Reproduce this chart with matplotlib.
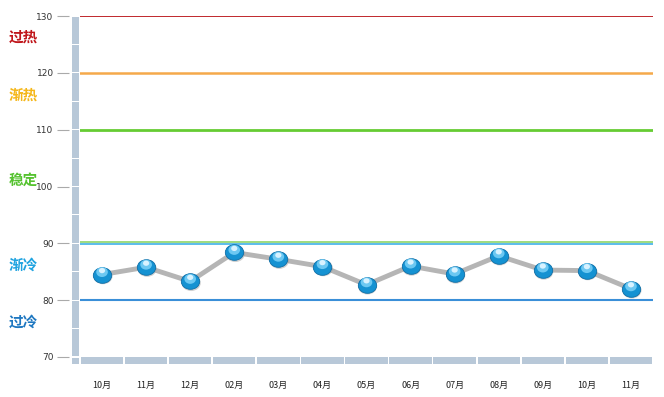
import numpy as np
import matplotlib.pyplot as plt
import matplotlib.transforms as mtransforms
from matplotlib.patches import Rectangle
from matplotlib.path import Path

plt.rcParams['font.family'] = ['Noto Sans CJK SC', 'DejaVu Sans']

# 0. Data
months = ["10月", "11月", "12月", "02月", "03月", "04月", "05月",
          "06月", "07月", "08月", "09月", "10月", "11月"]
values = [84.5, 85.8, 83.3, 88.4, 87.2, 85.9, 82.7,
          86.0, 84.6, 87.8, 85.3, 85.2, 82.0]
zone_names = ["过热", "渐热", "稳定", "渐冷", "过冷"]
zone_label_y = [126.3, 116.1, 101.1, 86.2, 76.2]
zone_colors = ["#c0171c", "#f5b71a", "#55c22f", "#1fa3e0", "#1f78c1"]
y_ticks = [70, 80, 90, 100, 110, 120, 130]

# ellipse marker (a bit wider than tall)
circ = Path.unit_circle()
ell = Path(circ.vertices * np.array([1.0, 0.85]), circ.codes)

# 1. Figure
fig = plt.figure(figsize=(6.64, 3.97), dpi=100)
ax = fig.add_axes([80 / 664, 40 / 397, 573 / 664, 341 / 397])
x = np.arange(len(months))
ax.set_xlim(-0.5, len(months) - 0.5)
ax.set_ylim(70, 130)

for s in ax.spines.values():
    s.set_visible(False)
ax.spines['left'].set_position(('outward', 8))

ax.set_yticks(y_ticks)
ax.set_yticklabels([str(v) for v in y_ticks], fontsize=6.5, color="#333333",
                   family="DejaVu Sans")
ax.tick_params(axis='y', length=9, color="#aaaaaa", pad=2)
ax.set_xticks(x)
ax.set_xticklabels(months, fontsize=6.5, color="#222222")
ax.tick_params(axis='x', length=0, pad=17)

# 2. 3D wall and floor
wall_tr = mtransforms.blended_transform_factory(ax.transAxes, ax.transData)
wx0, wx1 = -8 / 573, -1 / 573
for y0 in range(70, 130, 5):
    ax.add_patch(Rectangle((wx0, y0 + 0.1), wx1 - wx0, 4.8, transform=wall_tr,
                           facecolor="#b8c8d8", edgecolor="none", clip_on=False))
floor_tr = mtransforms.blended_transform_factory(ax.transData, ax.transAxes)
fh = 7 / 341
for i in x:
    ax.add_patch(Rectangle((i - 0.5 + 0.02, -fh), 0.96, fh, transform=floor_tr,
                           facecolor="#b8c8d8", edgecolor="none", clip_on=False))
ax.add_patch(Rectangle((wx0, -fh), wx1 - wx0, fh - 1 / 341, transform=ax.transAxes,
                       facecolor="#b8c8d8", edgecolor="none", clip_on=False))

# 3. Threshold lines
ax.axhline(130, color="#c0282d", lw=1.4)
ax.axhline(120, color="#f5a94a", lw=1.8)
ax.axhline(110, color="#66cc33", lw=2.0)
ax.axhline(90.15, color="#8ed46a", lw=1.2)
ax.axhline(89.85, color="#3fb0e8", lw=1.2)
ax.axhline(80, color="#3a8fd8", lw=1.5)

# zone names
for name, yy, c in zip(zone_names, zone_label_y, zone_colors):
    ax.text(-57 / 573, yy, name, transform=wall_tr, ha='center', va='center',
            fontsize=10.5, fontweight='bold', color=c, clip_on=False)

# 4. Line with glossy markers
ax.plot(x, values, color="#b5b5b5", lw=3.5, solid_joinstyle='round',
        solid_capstyle='round', zorder=3)
shadow = mtransforms.offset_copy(ax.transData, fig=fig, x=1, y=-1.5, units='dots')
ax.scatter(x, values, s=190, marker=ell, color="#9a9a9a", alpha=0.45,
           edgecolors='none', transform=shadow, zorder=4)
ax.scatter(x, values, s=175, marker=ell, color="#1592d2", edgecolors="#0f6fa8",
           linewidths=0.6, zorder=5)
hi = mtransforms.offset_copy(ax.transData, fig=fig, x=0, y=2.5, units='dots')
ax.scatter(x, values, s=70, marker=ell, color="#6cc8f2", edgecolors='none',
           transform=hi, zorder=6)
hi2 = mtransforms.offset_copy(ax.transData, fig=fig, x=0, y=4, units='dots')
ax.scatter(x, values, s=20, marker=ell, color="#d8f2ff", edgecolors='none',
           transform=hi2, zorder=7)

plt.savefig("out.png", dpi=100)
